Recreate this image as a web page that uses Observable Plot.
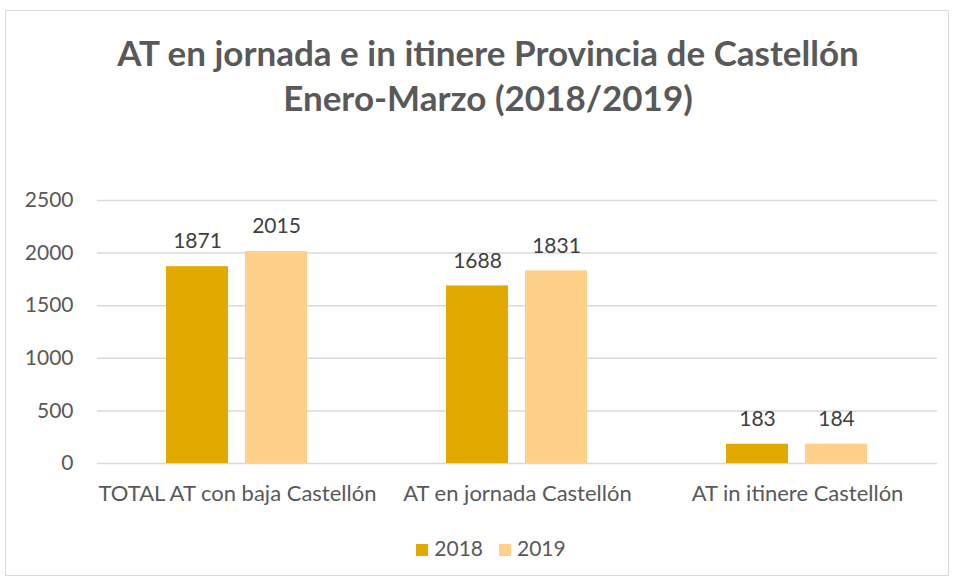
<!DOCTYPE html>
<html>
<head>
<meta charset="utf-8">
<script src="https://cdn.jsdelivr.net/npm/d3@7"></script>
<script src="https://cdn.jsdelivr.net/npm/@observablehq/plot@0.6"></script>
<style>
  html, body { margin: 0; padding: 0; background: #fff; }
  #frame {
    position: absolute; left: 5px; top: 10px; width: 944px; height: 566px;
    border: 1px solid #d9d9d9; box-sizing: border-box; font-family: Lato, "Open Sans", sans-serif;
  }
  #title {
    position: absolute; left: 11px; top: 19px; width: 100%; text-align: center;
    font-weight: bold; font-size: 35px; line-height: 45px; color: #595959;
  }
  #chart { position: absolute; left: 0; top: 139px; }
  #legend {
    position: absolute; top: 524px; left: 14px; width: 100%; text-align: center;
    font-size: 21px; color: #595959;
  }
  #legend span.item { display: inline-block; margin: 0 8px; }
  #legend span.sw { display: inline-block; width: 12px; height: 12px; margin-right: 6px; }
</style>
</head>
<body>
<div id="frame">
  <div id="title">AT en jornada e in itinere Provincia de Castellón<br>Enero-Marzo (2018/2019)</div>
  <div id="chart"></div>
  <div id="legend"></div>
</div>
<script>
const categories = ["TOTAL AT con baja Castellón", "AT en jornada Castellón", "AT in itinere Castellón"];
const years = ["2018", "2019"];
const values2018 = [1871, 1688, 183];
const values2019 = [2015, 1831, 184];
const yTicks = [0, 500, 1000, 1500, 2000, 2500];
const colors = ["#E2AA00", "#FFD188"];

const data = [];
categories.forEach((c, i) => {
  data.push({cat: c, year: years[0], value: values2018[i]});
  data.push({cat: c, year: years[1], value: values2019[i]});
});

const chart = Plot.plot({
  width: 942,
  height: 370,
  marginLeft: 90,
  marginRight: 10,
  marginTop: 50,
  marginBottom: 57,
  style: {fontFamily: "Lato, 'Open Sans', sans-serif", fontSize: "21px", color: "#595959", background: "#fff"},
  fx: {domain: categories, padding: 0, label: null, axis: "bottom", tickSize: 0, tickPadding: 22},
  x: {domain: years, paddingInner: 0.2125, paddingOuter: 0.86, axis: null},
  y: {domain: [0, 2500], ticks: yTicks, tickFormat: d => String(d), tickSize: 0, tickPadding: 24, label: null, grid: false},
  color: {domain: years, range: colors},
  marks: [
    Plot.ruleY(yTicks, {stroke: "#d9d9d9", strokeWidth: 1.5, strokeOpacity: 1}),
    Plot.barY(data, {fx: "cat", x: "year", y: "value", fill: "year"}),
    Plot.text(data, {fx: "cat", x: "year", y: "value", text: d => String(d.value), dy: -25, fill: "#404040", fontSize: 21})
  ]
});
chart.querySelectorAll("[aria-label='fx-axis tick label'] text").forEach(t => t.setAttribute("font-size", "22px"));
document.getElementById("chart").appendChild(chart);

const legend = document.getElementById("legend");
years.forEach((y, i) => {
  const item = document.createElement("span");
  item.className = "item";
  const sw = document.createElement("span");
  sw.className = "sw";
  sw.style.background = colors[i];
  item.appendChild(sw);
  item.appendChild(document.createTextNode(y));
  legend.appendChild(item);
});
</script>
</body>
</html>
